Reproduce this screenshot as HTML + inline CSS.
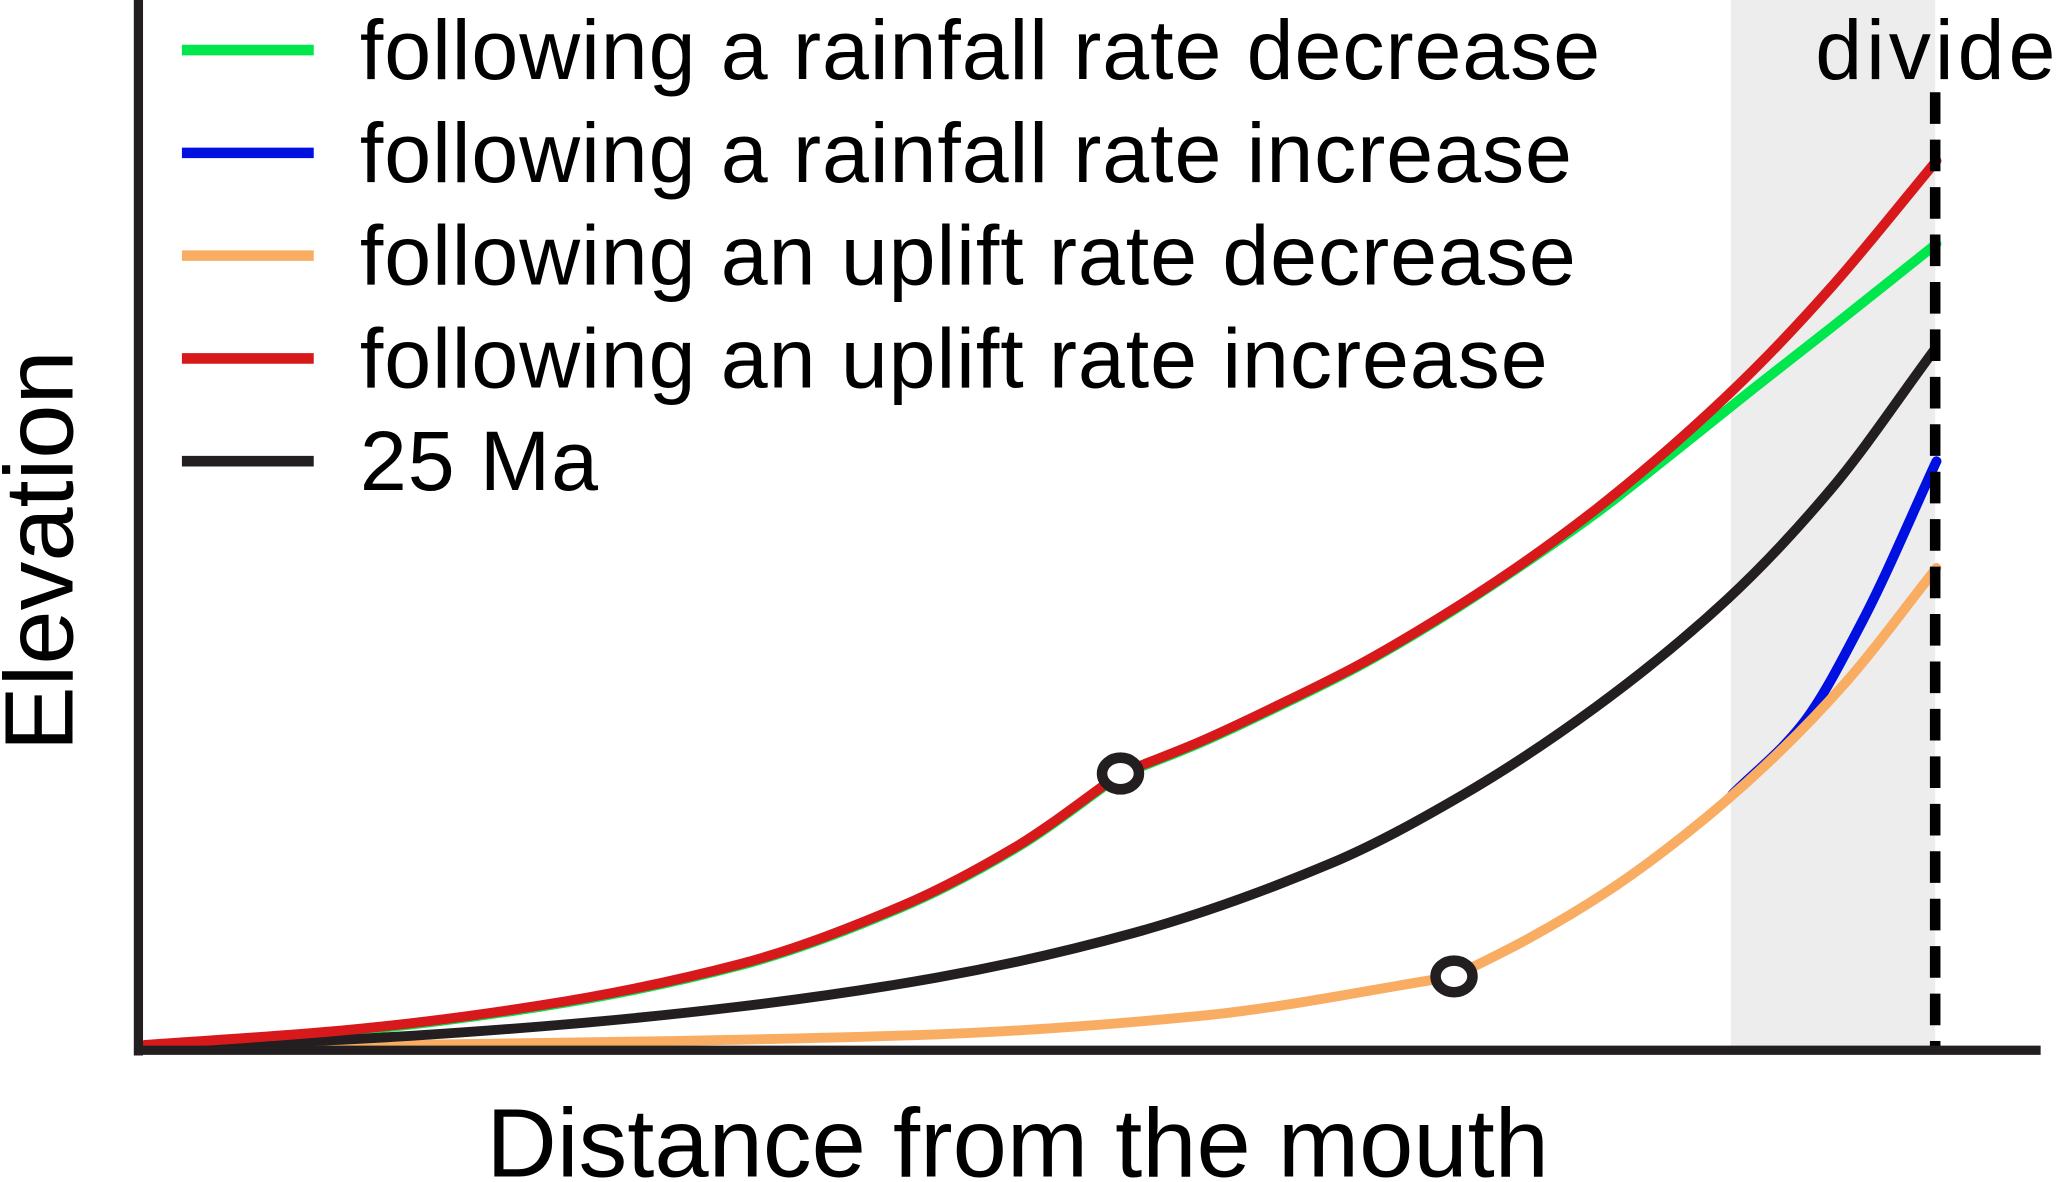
<!DOCTYPE html>
<html><head><meta charset="utf-8"><style>
html,body{margin:0;padding:0;background:#fff;width:2067px;height:1182px;overflow:hidden}
svg{display:block}
text{font-family:"Liberation Sans",Arial,sans-serif;fill:#000}
</style></head><body>
<svg id="chart" width="2067" height="1182" viewBox="0 0 1568 897" preserveAspectRatio="none">
<rect x="1313" y="0" width="155" height="797" fill="#ededed"/>
<g id="series"></g>
<line x1="1468" y1="70" x2="1468" y2="797" stroke="#000" stroke-width="8" stroke-dasharray="24,12"/>
<text x="1377" y="60" font-size="64" letter-spacing="3">divide</text>
<line x1="105" y1="0" x2="105" y2="801" stroke="#231f20" stroke-width="7"/>
<line x1="102" y1="797" x2="1548" y2="797" stroke="#231f20" stroke-width="7"/>
<text transform="translate(55,418) rotate(-90)" text-anchor="middle" font-size="74">Elevation</text>
<text x="772" y="893" text-anchor="middle" font-size="74">Distance from the mouth</text>
<g id="legend"></g>
</svg>
<script>
const seriesNames=["following a rainfall rate decrease","following a rainfall rate increase","following an uplift rate decrease","following an uplift rate increase","25 Ma"];
const seriesColors=["#00e64d","#0010e0","#f9ad62","#d7191c","#231f20"];
const redX=[0,15,30,45,57.3,66,74,80,86,92,98,104,110,116,122,128,135.9];
const redY=[2,13,32,63,107,152,208,232,260,290,325,364,408,458,514,578,673];
const greenX=[0,15,30,45,57.3,66,74,80,86,92,98,104,110,116,122,128,135.9];
const greenY=[1,12,31,62,106,151,207,231,259,289,324,363,405,452,500,547,610];
const blackX=[0,15,30,45,60,75,90,100,110,120,128,135.7];
const blackY=[0,6,16,31,53,87,140,192,258,340,425,529];
const orangeX=[0,20,40,60,80,99.3,105,111,117,123,129,135.9];
const orangeY=[0,2,5,10,24,54,83,119,163,215,277,364];
const blueX=[120.4,125.7,130.3,135.9];
const blueY=[192,245,324,445];
const markerX=[74,99.3];
const markerY=[208,54];
const sx=v=>110+v*10;
const sy=v=>795-v;
const NS="http://www.w3.org/2000/svg";
function piece(X,Y,first){
  const n=X.length,d=[],m=new Array(n);
  for(let i=0;i<n-1;i++)d.push((Y[i+1]-Y[i])/(X[i+1]-X[i]));
  m[0]=d[0];m[n-1]=d[n-2];
  for(let i=1;i<n-1;i++)m[i]=(d[i-1]*d[i]<=0)?0:2/(1/d[i-1]+1/d[i]);
  let s=first?"M"+X[0]+","+Y[0]:"";
  for(let i=0;i<n-1;i++){
    const h=(X[i+1]-X[i])/3;
    s+=" C"+(X[i]+h)+","+(Y[i]+m[i]*h)+" "+(X[i+1]-h)+","+(Y[i+1]-m[i+1]*h)+" "+X[i+1]+","+Y[i+1];
  }
  return s;
}
function pathD(xs,ys,breaks){
  const X=xs.map(sx),Y=ys.map(sy);
  const cuts=[0];
  xs.forEach((x,i)=>{if(i>0&&i<xs.length-1&&breaks.indexOf(x)>=0)cuts.push(i);});
  cuts.push(xs.length-1);
  let s="";
  for(let k=0;k<cuts.length-1;k++){
    s+=piece(X.slice(cuts[k],cuts[k+1]+1),Y.slice(cuts[k],cuts[k+1]+1),k===0);
  }
  return s;
}
const g=document.getElementById("series");
const draw=[[greenX,greenY,0,"line-rainfall-decrease"],[blueX,blueY,1,"line-rainfall-increase"],[orangeX,orangeY,2,"line-uplift-decrease"],[blackX,blackY,4,"line-25-ma"],[redX,redY,3,"line-uplift-increase"]];
draw.forEach(s=>{
  const el=document.createElementNS(NS,"path");
  el.setAttribute("d",pathD(s[0],s[1],markerX));
  el.setAttribute("fill","none");
  el.setAttribute("stroke",seriesColors[s[2]]);
  el.setAttribute("stroke-width","7.5");
  el.setAttribute("stroke-linecap","round");
  el.setAttribute("stroke-linejoin","round");
  
  
  g.appendChild(el);
});
markerX.forEach((x,i)=>{
  const c=document.createElementNS(NS,"ellipse");
  c.setAttribute("cx",sx(x));c.setAttribute("cy",sy(markerY[i]));
  c.setAttribute("rx","14");c.setAttribute("ry","12");
  c.setAttribute("fill","#fff");c.setAttribute("stroke","#231f20");c.setAttribute("stroke-width","8");
  
  
  g.appendChild(c);
});
const lg=document.getElementById("legend");
seriesNames.forEach((n,i)=>{
  const y=38+i*78;
  const l=document.createElementNS(NS,"line");
  l.setAttribute("x1","138");l.setAttribute("x2","238");l.setAttribute("y1",y);l.setAttribute("y2",y);
  l.setAttribute("stroke",seriesColors[i]);l.setAttribute("stroke-width","8");
  
  
  lg.appendChild(l);
  const t=document.createElementNS(NS,"text");
  t.setAttribute("x","273");t.setAttribute("y",y+22);t.setAttribute("font-size","64");
  t.setAttribute("letter-spacing","0.7");
  t.textContent=n;
  
  
  lg.appendChild(t);
});
</script>
</body></html>
